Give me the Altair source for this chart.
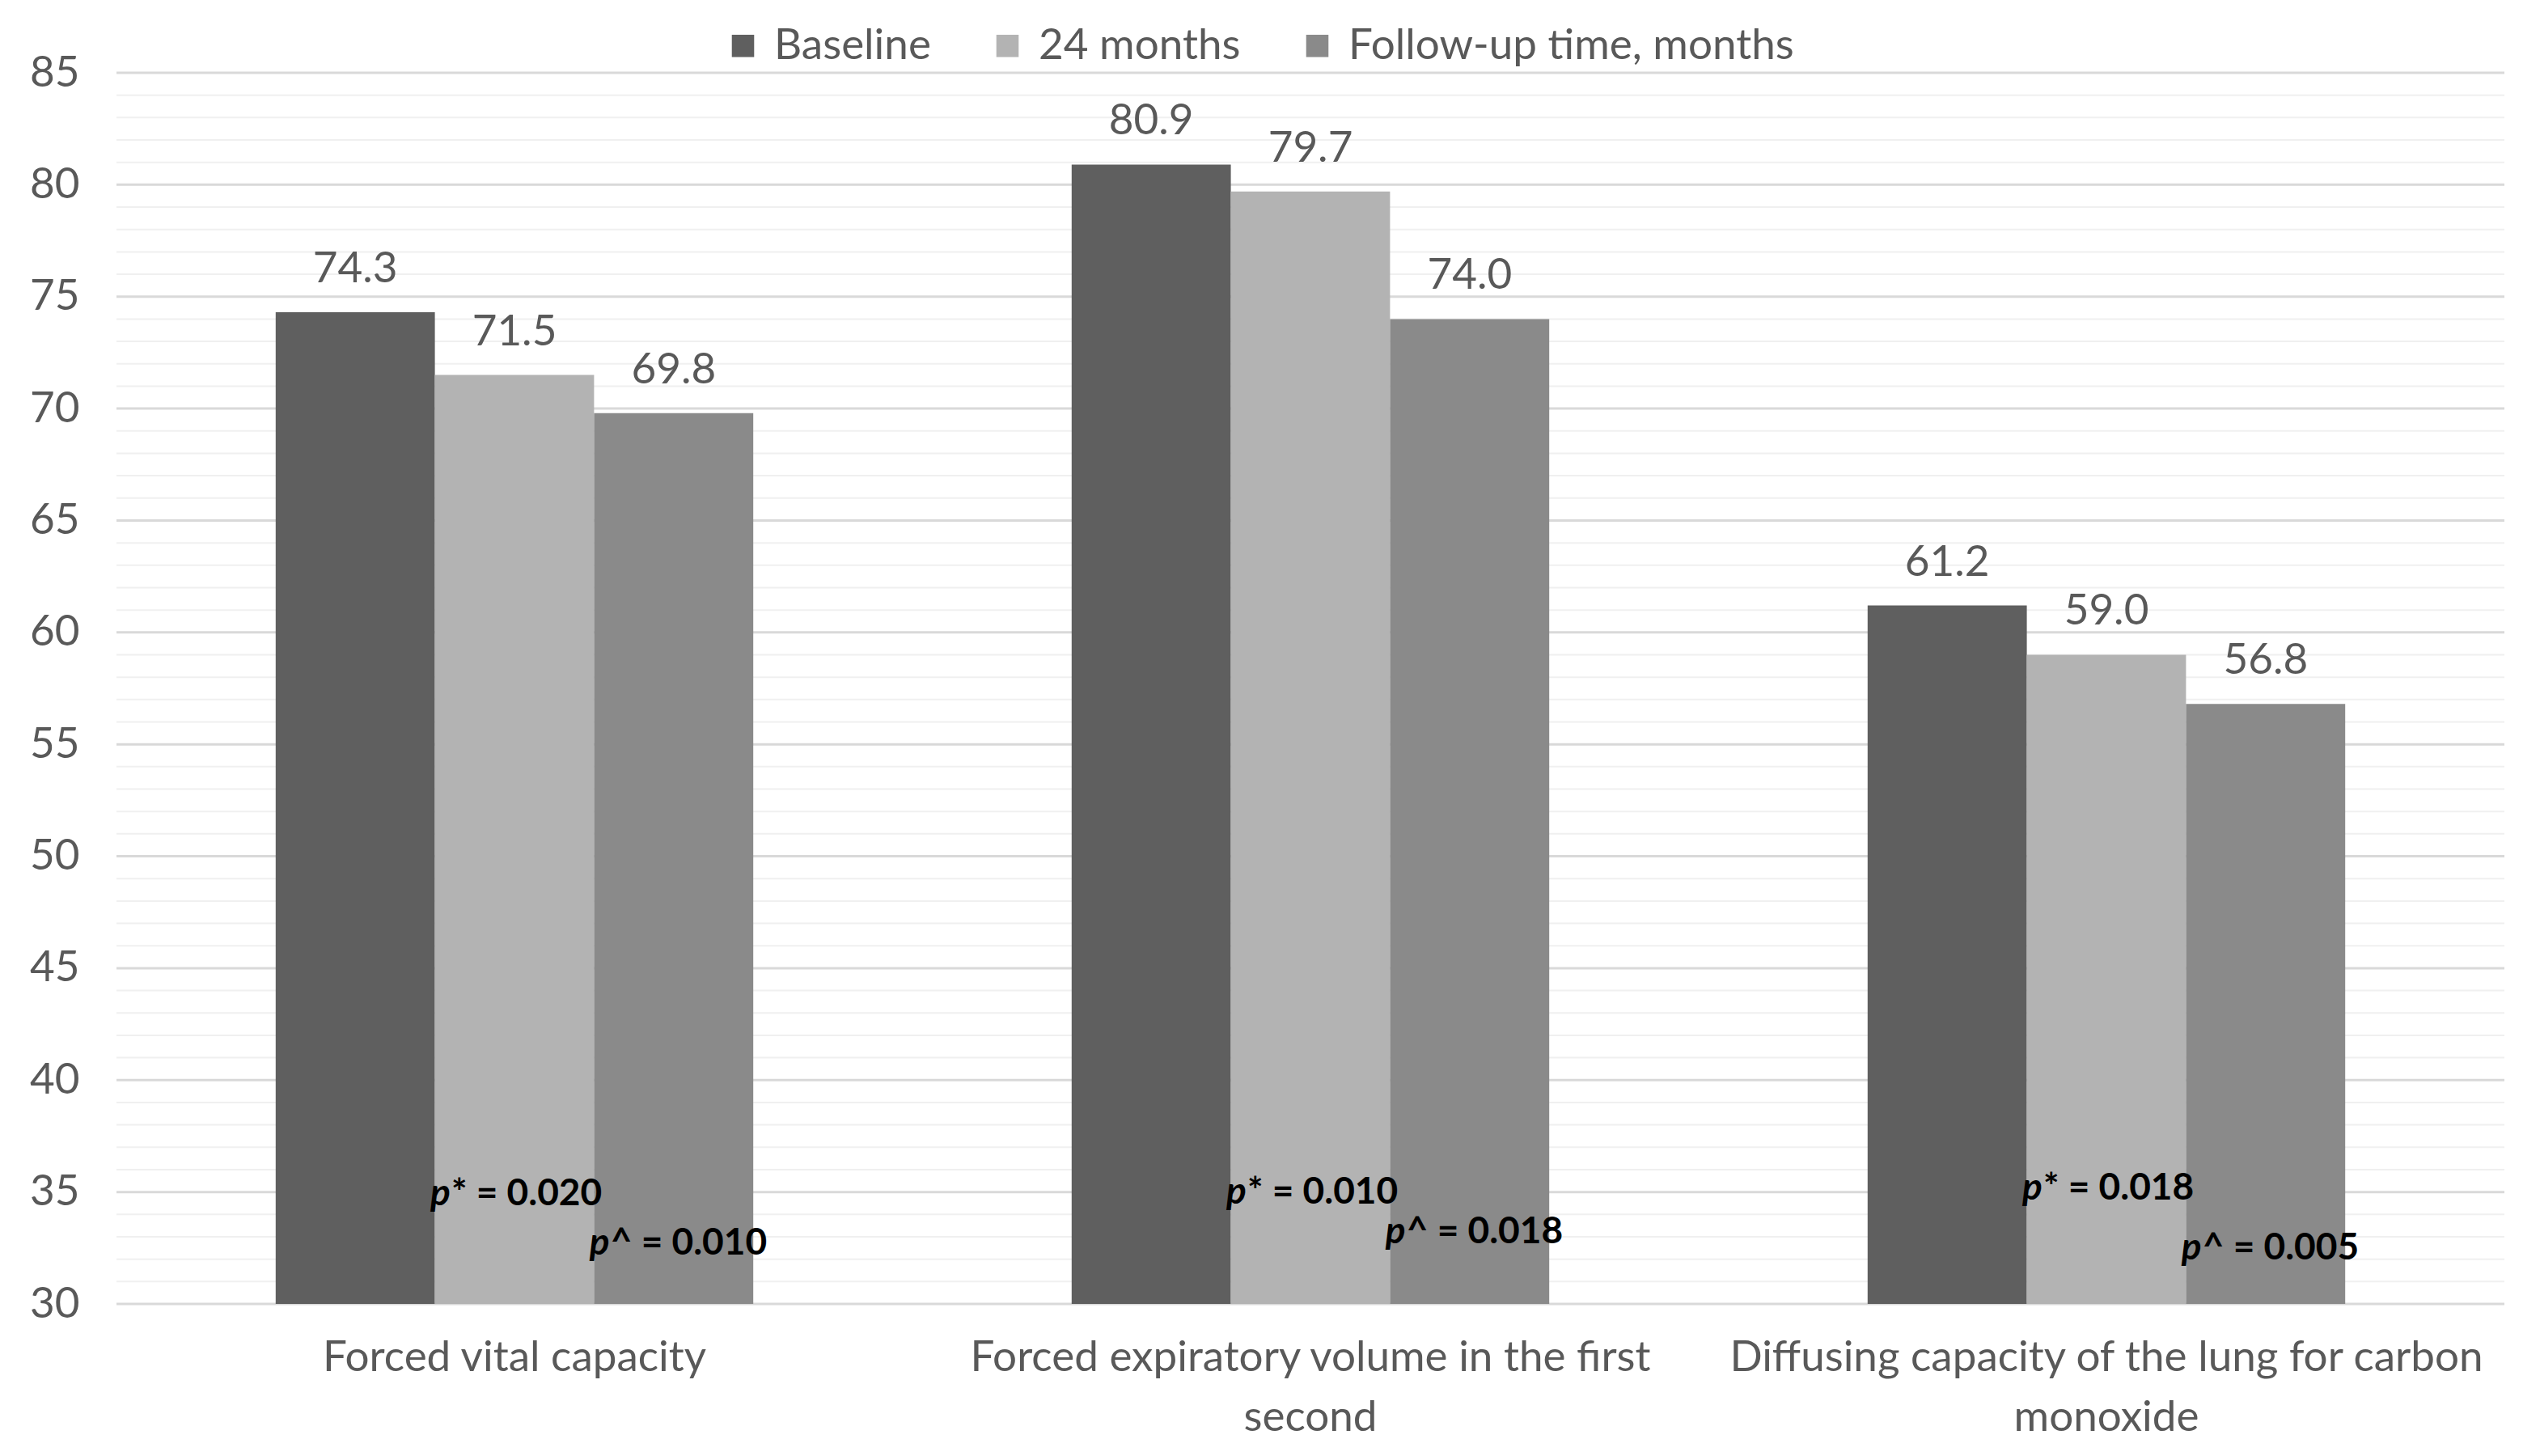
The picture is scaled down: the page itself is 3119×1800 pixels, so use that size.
import altair as alt
import pandas as pd

categories = [
    "Forced vital capacity",
    "Forced expiratory volume in the first second",
    "Diffusing capacity of the lung for carbon monoxide",
]
series = ["Baseline", "24 months", "Follow-up time, months"]
baseline = [74.3, 80.9, 61.2]
months24 = [71.5, 79.7, 59.0]
followup = [69.8, 74.0, 56.8]
colors = ["#5f5f5f", "#b3b3b3", "#8a8a8a"]

p_star = ["0.020", "0.010", "0.018"]
p_hat = ["0.010", "0.018", "0.005"]
p_star_y = [34.9, 35.0, 35.15]
p_hat_y = [32.7, 33.2, 32.5]

y_ticks = list(range(30, 90, 5))
grid_vals = list(range(30, 86))

rows = []
for i, c in enumerate(categories):
    for s, vals in zip(series, [baseline, months24, followup]):
        rows.append({"category": c, "series": s, "value": vals[i], "label": f"{vals[i]:.1f}"})
df = pd.DataFrame(rows)

prow = []
for i, c in enumerate(categories):
    prow.append({"category": c, "series": "24 months", "y": p_star_y[i], "sym": "p", "rest": "* = " + p_star[i]})
    prow.append({"category": c, "series": "Follow-up time, months", "y": p_hat_y[i], "sym": "p", "rest": "^ = " + p_hat[i]})
pdf = pd.DataFrame(prow)

gdf = pd.DataFrame({"v": grid_vals, "major": [v % 5 == 0 for v in grid_vals]})

FONT = "Lato"
FS = 53
yscale = alt.Scale(domain=[30, 85], zero=False, nice=False)
xscale = alt.Scale(domain=categories, paddingInner=0.4, paddingOuter=0.2)

label_expr = (
    "datum.label == 'Forced expiratory volume in the first second' ? "
    "['Forced expiratory volume in the first', 'second'] : "
    "datum.label == 'Diffusing capacity of the lung for carbon monoxide' ? "
    "['Diffusing capacity of the lung for carbon', 'monoxide'] : datum.label"
)

yaxis = alt.Axis(title=None, values=y_ticks, domain=False, ticks=False, grid=False,
                 labelFontSize=FS, labelFont=FONT, labelColor="#595959", labelPadding=46)
xaxis = alt.Axis(title=None, labelAngle=0, domain=False, ticks=False, labelLimit=0,
                 labelExpr=label_expr, labelFontSize=FS, labelFont=FONT,
                 labelColor="#595959", labelLineHeight=74, labelPadding=40,
                 labelBaseline="top")

grid = alt.Chart(gdf).mark_rule().encode(
    y=alt.Y("v:Q", scale=yscale, axis=yaxis),
    color=alt.condition("datum.major", alt.value("#d9d9d9"), alt.value("#f0f0f0")),
    strokeWidth=alt.condition("datum.major", alt.value(3), alt.value(2)),
)

bars = alt.Chart(df).mark_bar().encode(
    x=alt.X("category:N", scale=xscale, sort=categories, axis=xaxis),
    xOffset=alt.XOffset("series:N", sort=series, scale=alt.Scale(domain=series, paddingInner=0, paddingOuter=0)),
    y=alt.Y("value:Q", scale=yscale, axis=yaxis),
    y2=alt.datum(30),
    color=alt.Color("series:N", sort=series,
                    scale=alt.Scale(domain=series, range=colors),
                    legend=alt.Legend(title=None, orient="none", direction="horizontal",
                                      legendX=748, legendY=-60, symbolType="square",
                                      symbolSize=760, symbolStrokeWidth=0, labelFontSize=FS,
                                      labelFont=FONT, labelColor="#595959", columnPadding=68,
                                      labelOffset=12, labelLimit=0)),
)

values = alt.Chart(df).mark_text(baseline="bottom", dy=-26, fontSize=FS, font=FONT, color="#595959").encode(
    x=alt.X("category:N", scale=xscale, sort=categories),
    xOffset=alt.XOffset("series:N", sort=series),
    y=alt.Y("value:Q", scale=yscale),
    text="label:N",
)

psym = alt.Chart(pdf).mark_text(align="left", baseline="middle", dx=-104, fontSize=46, font=FONT,
                                fontWeight="bold", fontStyle="italic", color="#000000").encode(
    x=alt.X("category:N", scale=xscale, sort=categories),
    xOffset=alt.XOffset("series:N", sort=series),
    y=alt.Y("y:Q", scale=yscale),
    text="sym:N",
)
prest = alt.Chart(pdf).mark_text(align="left", baseline="middle", dx=-78, fontSize=46, font=FONT,
                                 fontWeight="bold", color="#000000").encode(
    x=alt.X("category:N", scale=xscale, sort=categories),
    xOffset=alt.XOffset("series:N", sort=series),
    y=alt.Y("y:Q", scale=yscale),
    text="rest:N",
)

chart = alt.layer(grid, bars, values, psym, prest).properties(
    width=2952, height=1522,
    autosize=alt.AutoSizeParams(type="none"),
    padding={"left": 136, "top": 82, "right": 15, "bottom": 180},
    background="white",
).configure_view(stroke=None)

chart.save("out.html", embed_options={"renderer": "svg", "actions": False})
